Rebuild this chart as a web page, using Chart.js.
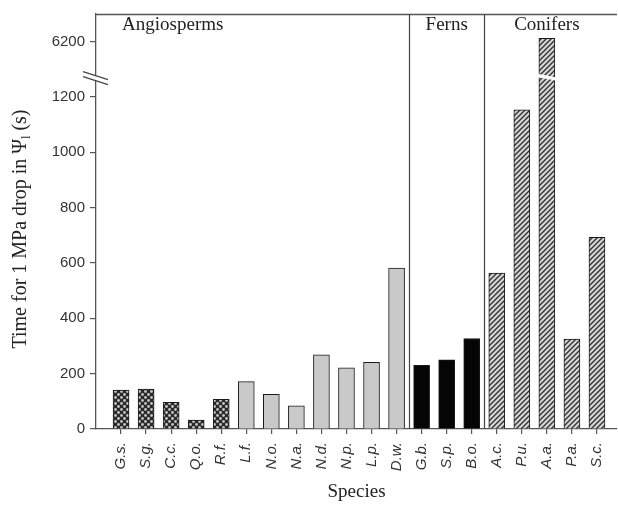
<!DOCTYPE html>
<html>
<head>
<meta charset="utf-8">
<script src="https://cdn.jsdelivr.net/npm/chart.js"></script>
<style>
	body{margin:0;background:#fff;}
	#wrap{width:618px;height:507px;}
</style>
</head>
<body>
<div id="wrap"><canvas id="myChart"></canvas></div>
<script>
/* data */
let species = ['G.s.','S.g.','C.c.','Q.o.','R.f.','L.f.','N.o.','N.a.','N.d.','N.p.','L.p.','D.w.',
	'G.b.','S.p.','B.o.','A.c.','P.u.','A.a.','P.a.','S.c.'];
let timeValues = [141, 144, 96, 32, 107, 171, 125, 84, 268, 221, 241, 582,
	230, 250, 327, 564, 1154, 6250, 325, 693];
let groupOf = ['Angiosperms','Angiosperms','Angiosperms','Angiosperms','Angiosperms','Angiosperms',
	'Angiosperms','Angiosperms','Angiosperms','Angiosperms','Angiosperms','Angiosperms',
	'Ferns','Ferns','Ferns','Conifers','Conifers','Conifers','Conifers','Conifers'];
let fillKind = ['dots','dots','dots','dots','dots','grey','grey','grey','grey','grey','grey','grey',
	'black','black','black','hatch','hatch','hatch','hatch','hatch'];
let groupNames = ['Angiosperms','Ferns','Conifers'];
let yTicks = [0, 200, 400, 600, 800, 1000, 1200, 6200];

/* broken y axis: values above the cut are squeezed into the top band */
const BREAK_AT = 1270;
function breakMap(v){
	return v <= 1300 ? v : 1400 + (v - 6200) / 4;
}

function makePattern(kind){
	let c = document.createElement('canvas');
	if(kind === 'dots'){
		c.width = 6; c.height = 6;
		let g = c.getContext('2d');
		g.fillStyle = '#2a2a2a';
		g.fillRect(0,0,6,6);
		g.fillStyle = '#c4c4c4';
		[[1.5,1.5],[4.5,4.5]].forEach(function(p){
			g.beginPath(); g.arc(p[0],p[1],1.4,0,Math.PI*2); g.fill();
		});
		return g.createPattern(c,'repeat');
	}
	if(kind === 'hatch'){
		c.width = 5; c.height = 5;
		let g = c.getContext('2d');
		g.fillStyle = '#d6d6d6';
		g.fillRect(0,0,5,5);
		g.strokeStyle = '#333';
		g.lineWidth = 1.4;
		g.beginPath();
		g.moveTo(-1,6); g.lineTo(6,-1);
		g.moveTo(-3,3); g.lineTo(3,-3);
		g.moveTo(2,8); g.lineTo(8,2);
		g.stroke();
		return g.createPattern(c,'repeat');
	}
	if(kind === 'black') return '#050505';
	return '#c9c9c9';
}

let fills = fillKind.map(makePattern);

let serif = 'Liberation Serif';
let sans = 'Liberation Sans';

let decoPlugin = {
	id: 'deco',
	afterDraw: function(chart){
		let ctx = chart.ctx;
		let area = chart.chartArea;
		let xs = chart.scales.x;
		let ys = chart.scales.y;
		ctx.save();

		// top frame
		ctx.strokeStyle = '#555';
		ctx.lineWidth = 1.3;
		ctx.beginPath();
		ctx.moveTo(area.left, area.top + 0.5);
		ctx.lineTo(area.right, area.top + 0.5);
		ctx.stroke();

		// group separators + labels
		ctx.font = '19px "' + serif + '"';
		ctx.fillStyle = '#222';
		ctx.textBaseline = 'alphabetic';
		groupNames.forEach(function(name, gi){
			let first = groupOf.indexOf(name);
			let last = groupOf.lastIndexOf(name);
			if(gi > 0){
				let sx = Math.round(xs.getPixelForValue(first - 0.5)) + 0.5;
				ctx.lineWidth = 1.2;
				ctx.strokeStyle = '#444';
				ctx.beginPath();
				ctx.moveTo(sx, area.top);
				ctx.lineTo(sx, area.bottom);
				ctx.stroke();
			}
			if(gi === 0){
				ctx.textAlign = 'left';
				ctx.fillText(name, xs.getPixelForValue(first) + 1, area.top + 16);
			}else{
				ctx.textAlign = 'center';
				ctx.fillText(name, xs.getPixelForValue((first + last) / 2), area.top + 16);
			}
		});

		// axis break marks
		let yb = ys.getPixelForValue(BREAK_AT);
		let x0 = area.left;
		ctx.fillStyle = '#fff';
		ctx.beginPath();
		ctx.moveTo(x0 - 13, yb - 6);
		ctx.lineTo(x0 + 12, yb + 2);
		ctx.lineTo(x0 + 12, yb + 7);
		ctx.lineTo(x0 - 13, yb - 1);
		ctx.closePath();
		ctx.fill();
		ctx.strokeStyle = '#444';
		ctx.lineWidth = 1.2;
		ctx.beginPath();
		ctx.moveTo(x0 - 13, yb - 6); ctx.lineTo(x0 + 12, yb + 2);
		ctx.moveTo(x0 - 13, yb - 1); ctx.lineTo(x0 + 12, yb + 7);
		ctx.stroke();

		// break on the tall bars
		let meta = chart.getDatasetMeta(0);
		timeValues.forEach(function(v, i){
			if(v <= 1300) return;
			let bar = meta.data[i];
			let half = bar.width / 2;
			ctx.strokeStyle = '#fff';
			ctx.lineWidth = 3.5;
			ctx.beginPath();
			ctx.moveTo(bar.x - half - 6, yb - 3);
			ctx.lineTo(bar.x + half + 5, yb + 2);
			ctx.stroke();
		});

		// y axis title with subscript
		let main = 'Time for 1 MPa drop in \u03A8';
		let tail = ' (s)';
		ctx.font = '20px "' + serif + '"';
		let w1 = ctx.measureText(main).width;
		let w3 = ctx.measureText(tail).width;
		ctx.font = '12px "' + serif + '"';
		let w2 = ctx.measureText('l').width;
		let total = w1 + w2 + w3;
		ctx.translate(21, 229);
		ctx.rotate(-Math.PI / 2);
		ctx.fillStyle = '#222';
		ctx.textAlign = 'left';
		ctx.textBaseline = 'middle';
		let sx0 = -total / 2;
		ctx.font = '20px "' + serif + '"';
		ctx.fillText(main, sx0, 0);
		ctx.font = '12px "' + serif + '"';
		ctx.fillText('l', sx0 + w1, 6);
		ctx.font = '20px "' + serif + '"';
		ctx.fillText(tail, sx0 + w1 + w2, 0);

		ctx.restore();
	}
};

let myChart = new Chart(document.getElementById('myChart'), {
	type: 'bar',
	data: {
		datasets: [{
			data: species.map(function(s, i){ return {x: i, y: breakMap(timeValues[i])}; }),
			backgroundColor: fills,
			borderColor: '#1a1a1a',
			borderWidth: 1,
			barThickness: 16
		}]
	},
	options: {
		responsive: true,
		maintainAspectRatio: false,
		animation: false,
		layout: { padding: { top: 13, right: 1, left: 0, bottom: 0 } },
		plugins: { legend: { display: false }, tooltip: { enabled: false } },
		scales: {
			x: {
				type: 'linear',
				min: -1,
				max: 19.8,
				offset: false,
				afterBuildTicks: function(scale){
					scale.ticks = species.map(function(n, i){ return {value: i}; });
				},
				afterFit: function(scale){
					scale.height = 78;
					scale.paddingLeft = 0;
					scale.paddingRight = 0;
				},
				ticks: {
					callback: function(v){ return species[v]; },
					autoSkip: false,
					maxRotation: 90,
					minRotation: 90,
					padding: 8,
					color: '#333',
					font: { family: sans, size: 15, style: 'italic' }
				},
				grid: { offset: false, drawOnChartArea: false, tickLength: 5, color: '#555', lineWidth: 1.2 },
				border: { color: '#555', width: 1.3 },
				title: {
					display: true,
					text: 'Species',
					color: '#222',
					font: { family: serif, size: 19 },
					padding: { top: 0, bottom: 4 }
				}
			},
			y: {
				min: 0,
				max: 1500,
				afterBuildTicks: function(scale){
					scale.ticks = yTicks.map(function(v){ return {value: breakMap(v)}; });
				},
				afterFit: function(scale){ scale.width = 96; },
				ticks: {
					callback: function(v, i){ return String(yTicks[i]); },
					autoSkip: false,
					padding: 5,
					color: '#333',
					font: { family: sans, size: 15 }
				},
				grid: { drawOnChartArea: false, tickLength: 6, color: '#555', lineWidth: 1.2 },
				border: { color: '#555', width: 1.3 }
			}
		}
	},
	plugins: [decoPlugin]
});
</script>
</body>
</html>
